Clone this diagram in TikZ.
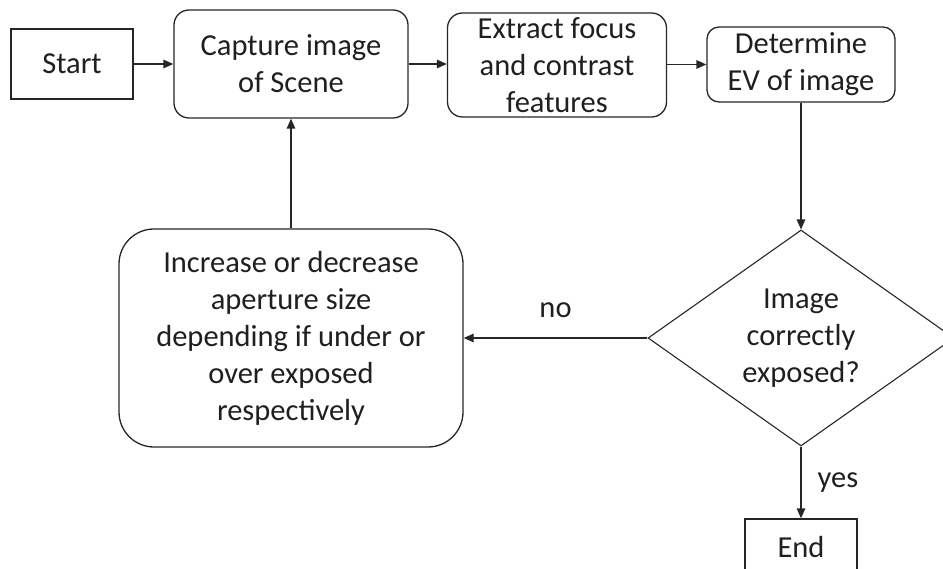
\documentclass[tikz,border=0pt]{standalone}
\usepackage{fontspec}
\setmainfont{Carlito}
\usetikzlibrary{arrows.meta,shapes.geometric}
\begin{document}
\begin{tikzpicture}[x=1pt,y=-1pt,
  every node/.style={font=\fontsize{30.5}{37}\selectfont, text=black!88},
  sqbox/.style={draw=black!85, line width=1.3pt, align=center, inner sep=0pt},
  rbox/.style={sqbox, rounded corners=15pt},
  decision/.style={diamond, draw=black!85, line width=1.1pt, align=center,
    inner sep=0pt, aspect=1.417, minimum width=306pt, minimum height=216pt},
  arr/.style={draw=black!85, line width=1.3pt, -{Triangle[length=10pt,width=8.5pt]}},
  edgelabel/.style={inner sep=0pt}
]
\useasboundingbox (0,0) rectangle (943,569);
\clip (0,0) rectangle (943,569);

% process boxes
\node[sqbox, minimum width=122pt, minimum height=70pt] (start) at (72,64) {Start};
\node[rbox, minimum width=234pt, minimum height=108pt] (capture) at (291,64) {Capture image\\of Scene};
\node[rbox, minimum width=219pt, minimum height=104pt] (extract) at (557,65) {Extract focus\\and contrast\\features};
\node[rbox, rounded corners=12pt, minimum width=188pt, minimum height=75pt] (ev) at (801,64.5) {Determine\\EV of image};
\node[decision] (dec) at (801,338) {Image\\correctly\\exposed?};
\node[rbox, rounded corners=35pt, minimum width=344pt, minimum height=218pt] (adjust) at (291,338)
  {Increase or decrease\\aperture size\\depending if under or\\over exposed\\respectively};
\node[sqbox, minimum width=112pt, minimum height=56pt] (end) at (801,547) {End};

% connectors
\draw[arr] (start) -- (capture);
\draw[arr] (capture.east) -- (capture.east -| extract.west);
\draw[arr] (extract.east |- ev.west) -- (ev.west);
\draw[arr] (ev) -- (dec);
\draw[arr] (dec) -- node[edgelabel, midway, anchor=south, yshift=20pt] {no} (adjust);
\draw[arr] (adjust) -- (capture);
\draw[arr] (dec) -- node[edgelabel, midway, anchor=west, xshift=16pt] {yes} (end);
\end{tikzpicture}
\end{document}
